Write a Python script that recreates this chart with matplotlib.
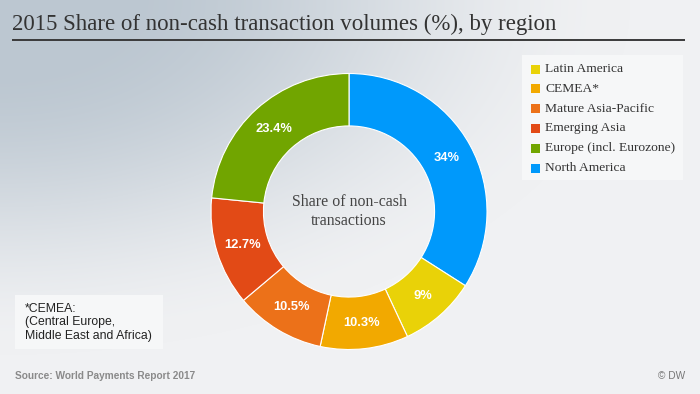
import numpy as np
import matplotlib
matplotlib.use("Agg")
import matplotlib.pyplot as plt
from matplotlib.patches import Rectangle

# data, clockwise from 12 o'clock
regions = ["North America", "Latin America", "CEMEA*", "Mature Asia-Pacific",
           "Emerging Asia", "Europe (incl. Eurozone)"]
shares = [34, 9, 10.3, 10.5, 12.7, 23.4]
share_labels = ["34%", "9%", "10.3%", "10.5%", "12.7%", "23.4%"]
colors = ["#0099fb", "#e9d208", "#f2a900", "#ec7119", "#e24a16", "#71a500"]
legend_order = ["Latin America", "CEMEA*", "Mature Asia-Pacific", "Emerging Asia",
                "Europe (incl. Eurozone)", "North America"]

W, H = 700, 394
fig = plt.figure(figsize=(7, 3.94), dpi=100)

# background gradient, darker in the top-left corner
bg = fig.add_axes([0, 0, 1, 1])
yy, xx = np.mgrid[0:H, 0:W]
d = np.sqrt((xx / W) ** 2 + (yy / H) ** 2)
t = np.clip((d - 0.15) / 0.75, 0, 1)
t = t * t * (3 - 2 * t)
c0 = np.array([0xbc, 0xc7, 0xd1]) / 255
c1 = np.array([0xf0, 0xf1, 0xf3]) / 255
img = c0[None, None, :] * (1 - t[..., None]) + c1[None, None, :] * t[..., None]
bg.imshow(img, extent=[0, W, H, 0], aspect="auto")
bg.set_xlim(0, W)
bg.set_ylim(H, 0)
bg.axis("off")

serif = ["Liberation Serif", "DejaVu Serif"]
sans = ["Liberation Sans", "DejaVu Sans"]

# title and rule
bg.text(12, 30, "2015 Share of non-cash transaction volumes (%), by region",
        fontsize=16.5, family=serif, color="#333333", va="baseline")
bg.plot([12, 685], [39.5, 39.5], color="#3a3a3a", lw=1.4, solid_capstyle="butt")

# donut
cx, cy, r = 349, 211.5, 138
ax = fig.add_axes([(cx - r) / W, (H - cy - r) / H, 2 * r / W, 2 * r / H])
wedges, _ = ax.pie(shares, colors=colors, startangle=90, counterclock=False,
                   radius=1, wedgeprops=dict(width=0.38, edgecolor="white", linewidth=0.8))
ax.set_xlim(-1, 1)
ax.set_ylim(-1, 1)
ax.set_aspect("equal")
ax.axis("off")
for w, lab in zip(wedges, share_labels):
    ang = np.deg2rad((w.theta1 + w.theta2) / 2)
    ax.text(0.81 * np.cos(ang), 0.81 * np.sin(ang), lab, ha="center", va="center",
            color="white", fontsize=9.3, fontweight="bold", family=sans)
ax.text(0, 0, "Share of non-cash\ntransactions", ha="center", va="center",
        fontsize=11.4, family=serif, color="#444444", linespacing=1.25)

# legend box
bg.add_patch(Rectangle((522, 55), 161, 125, facecolor="#f6f7f8", edgecolor="none"))
lut = dict(zip(regions, colors))
for i, name in enumerate(legend_order):
    y = 69 + i * 19.8
    bg.add_patch(Rectangle((531, y - 4.5), 9, 9, facecolor=lut[name], edgecolor="none"))
    bg.text(545, y, name, fontsize=9.7, family=serif, color="#333333", va="center")

# footnote box
bg.add_patch(Rectangle((15, 295), 148, 54, facecolor="#f6f7f8", edgecolor="none"))
bg.text(25, 322.5, "*CEMEA:\n(Central Europe,\nMiddle East and Africa)", fontsize=8.8,
        family=sans, color="#222222", va="center", linespacing=1.2)

# source and credit
bg.text(15, 376, "Source: World Payments Report 2017", fontsize=7.3, family=sans,
        fontweight="bold", color="#8a8a8a", va="center")
bg.text(685, 376, "\u00a9 DW", fontsize=7.3, family=sans, color="#777777",
        va="center", ha="right")

fig.savefig("out.png", dpi=100)
